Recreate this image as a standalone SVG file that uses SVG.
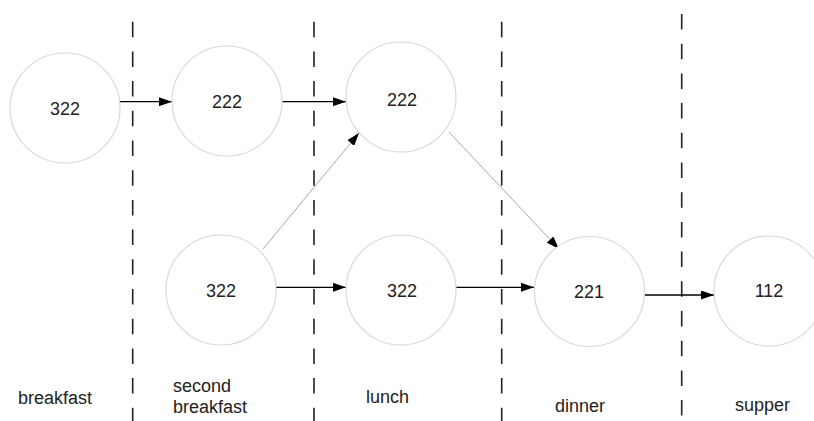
<svg xmlns="http://www.w3.org/2000/svg" width="814" height="421" viewBox="0 0 814 421">
  <style>
    .node circle { fill: #ffffff; stroke: #d9d9d9; stroke-width: 1.2; }
    .node text { font-family: "Liberation Sans", Arial, sans-serif; font-size: 18px; fill: #222; text-anchor: middle; }
    .label { font-family: "Liberation Sans", Arial, sans-serif; font-size: 18px; fill: #222; }
    .divider { stroke: #222; stroke-width: 1.6; stroke-dasharray: 15.5 14.2; fill: none; }
    .edge { stroke: #000; stroke-width: 1.3; fill: none; marker-end: url(#arrow); }
    .edge.soft { stroke: #a8a8a8; stroke-width: 1; }
  </style>
  <defs>
    <marker id="arrow" viewBox="0 0 13 9" refX="13" refY="4.5" markerWidth="13" markerHeight="9" markerUnits="userSpaceOnUse" orient="auto">
      <path d="M0,0 L13,4.5 L0,9 Z" fill="#000"/>
    </marker>
  </defs>
  <rect width="814" height="421" fill="#ffffff"/>

  <!-- meal column dividers -->
  <g id="dividers">
    <line class="divider" x1="132.7" y1="21.7" x2="132.7" y2="421"/>
    <line class="divider" x1="314" y1="21.7" x2="314" y2="421"/>
    <line class="divider" x1="501.7" y1="21.7" x2="501.7" y2="421"/>
    <line class="divider" x1="681.7" y1="14" x2="681.7" y2="421"/>
  </g>

  <!-- connectors -->
  <g id="connectors">
    <line class="edge" x1="120" y1="101.7" x2="172" y2="101.7"/>
    <line class="edge" x1="282" y1="101.7" x2="346" y2="101.7"/>
    <line class="edge" x1="276" y1="287.3" x2="346" y2="287.3"/>
    <line class="edge" x1="456" y1="287.3" x2="534" y2="287.3"/>
    <line class="edge" x1="643" y1="295" x2="714" y2="295"/>
    <line class="edge soft" x1="263" y1="249" x2="359" y2="133"/>
    <line class="edge soft" x1="449" y1="132" x2="559" y2="249"/>
  </g>

  <!-- nodes -->
  <g id="n-breakfast" class="node">
    <circle cx="65" cy="108" r="55"/>
    <text x="65" y="114.5">322</text>
  </g>
  <g id="n-second-top" class="node">
    <circle cx="227" cy="101" r="55"/>
    <text x="227" y="107.5">222</text>
  </g>
  <g id="n-lunch-top" class="node">
    <circle cx="401" cy="97" r="55"/>
    <text x="402" y="106">222</text>
  </g>
  <g id="n-second-bottom" class="node">
    <circle cx="221" cy="290" r="55"/>
    <text x="221" y="296.5">322</text>
  </g>
  <g id="n-lunch-bottom" class="node">
    <circle cx="401" cy="290" r="55"/>
    <text x="402" y="296.5">322</text>
  </g>
  <g id="n-dinner" class="node">
    <circle cx="589.5" cy="291.5" r="55"/>
    <text x="589" y="297.5">221</text>
  </g>
  <g id="n-supper" class="node">
    <circle cx="769" cy="291" r="55"/>
    <text x="769" y="297">112</text>
  </g>

  <!-- column labels -->
  <g id="labels">
    <text class="label" x="18" y="404">breakfast</text>
    <text class="label" x="173" y="392">second</text>
    <text class="label" x="173" y="413">breakfast</text>
    <text class="label" x="366" y="403">lunch</text>
    <text class="label" x="555" y="412">dinner</text>
    <text class="label" x="735" y="411">supper</text>
  </g>
</svg>
